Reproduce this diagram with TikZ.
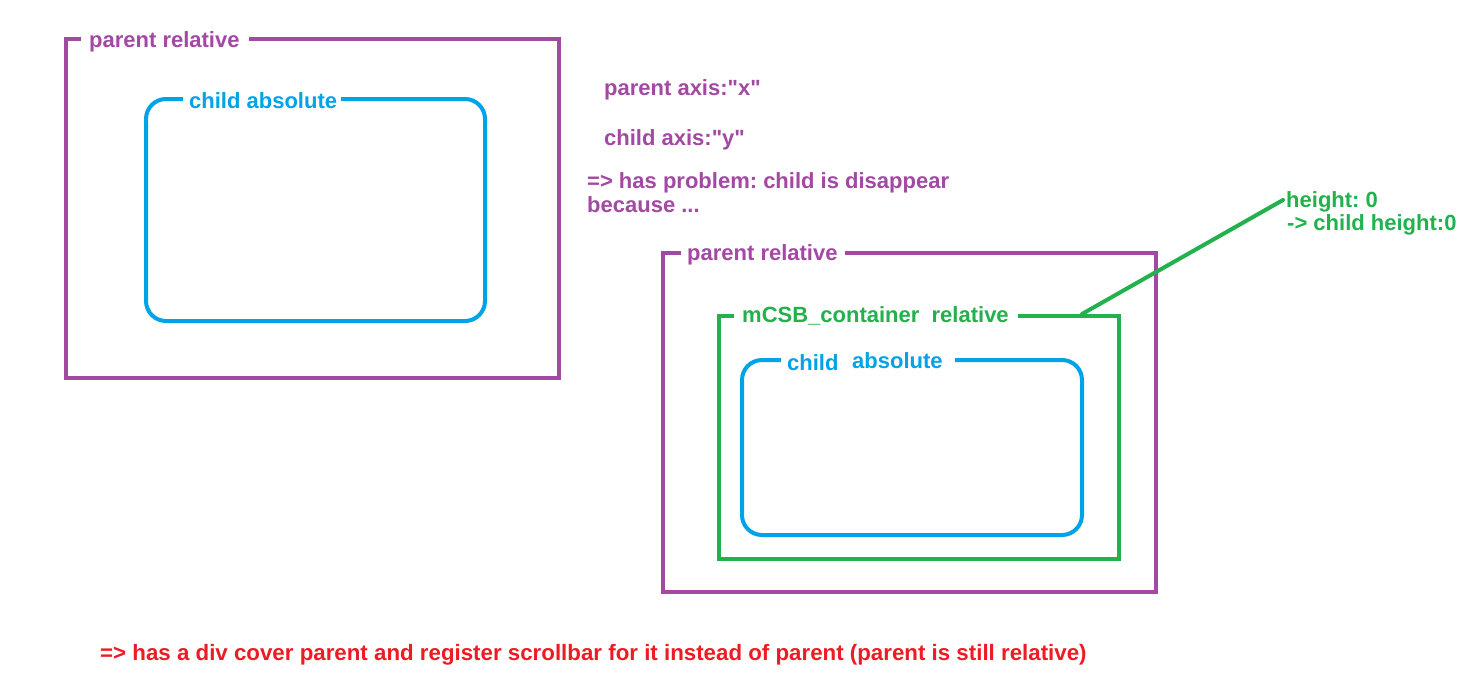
\documentclass[tikz,border=0pt]{standalone}
\usepackage{fontspec}
\setmainfont{Liberation Sans}
\frenchspacing
\definecolor{ppurple}{HTML}{A349A4}
\definecolor{pblue}{HTML}{00A2E8}
\definecolor{pgreen}{HTML}{22B14C}
\definecolor{pred}{HTML}{ED1C24}
\begin{document}
\begin{tikzpicture}[x=1pt,y=-1pt,
  boxline/.style={line width=4pt},
  lbl/.style={anchor=base west,inner sep=0pt,font=\fontsize{22}{24}\selectfont\bfseries}]
\useasboundingbox[fill=white] (0,0) rectangle (1473,681);

% ---- left group ----
\node[lbl,text=ppurple] (p1lbl) at (89,47) {parent relative};
\draw[boxline,ppurple] (249,39) -- (559,39) -- (559,378) -- (66,378) -- (66,39) -- (81,39);
\node[lbl,text=pblue] (c1lbl) at (189,108) {child absolute};
\draw[boxline,pblue,rounded corners=20pt] (341,99) -- (485,99) -- (485,321) -- (146,321) -- (146,99) -- (183,99);

% ---- notes ----
\node[lbl,text=ppurple] (n1) at (604,95) {parent axis:\textquotedbl x\textquotedbl};
\node[lbl,text=ppurple] (n2) at (604,145) {child axis:\textquotedbl y\textquotedbl};
\node[lbl,text=ppurple] (n3) at (587,188) {=> has problem: child is disappear};
\node[lbl,text=ppurple] (n4) at (587,212) {because ...};

% ---- right group ----
\node[lbl,text=ppurple] (p2lbl) at (687,260) {parent relative};
\draw[boxline,ppurple] (845,253) -- (1156,253) -- (1156,592) -- (663,592) -- (663,253) -- (681,253);
\node[lbl,text=pgreen] (glbl) at (742,322) {mCSB\_container\ \ relative};
\draw[boxline,pgreen] (1018,316) -- (1119,316) -- (1119,559) -- (719,559) -- (719,316) -- (734,316);
\node[lbl,text=pblue] (c2lbl) at (787,370) {child};
\node[lbl,text=pblue] (c2lblb) at (852,368) {absolute};
\draw[boxline,pblue,rounded corners=20pt] (955,360) -- (1082,360) -- (1082,535) -- (742,535) -- (742,360) -- (781,360);

% ---- height note ----
\node[lbl,text=pgreen] (hn) at (1286,207) {height: 0};
\node[lbl,text=pgreen] (hn2) at (1287,230) {-> child height:0};
\coordinate (gstart) at (1082,314);
\draw[pgreen,line width=4pt,line cap=round] (gstart) -- (1283,200);

% ---- bottom note ----
\node[lbl,text=pred,font=\fontsize{22.3}{24}\selectfont\bfseries] (bottom) at (100,660) {=> has a div cover parent and register scrollbar for it instead of parent (parent is still relative)};
\end{tikzpicture}
\end{document}
